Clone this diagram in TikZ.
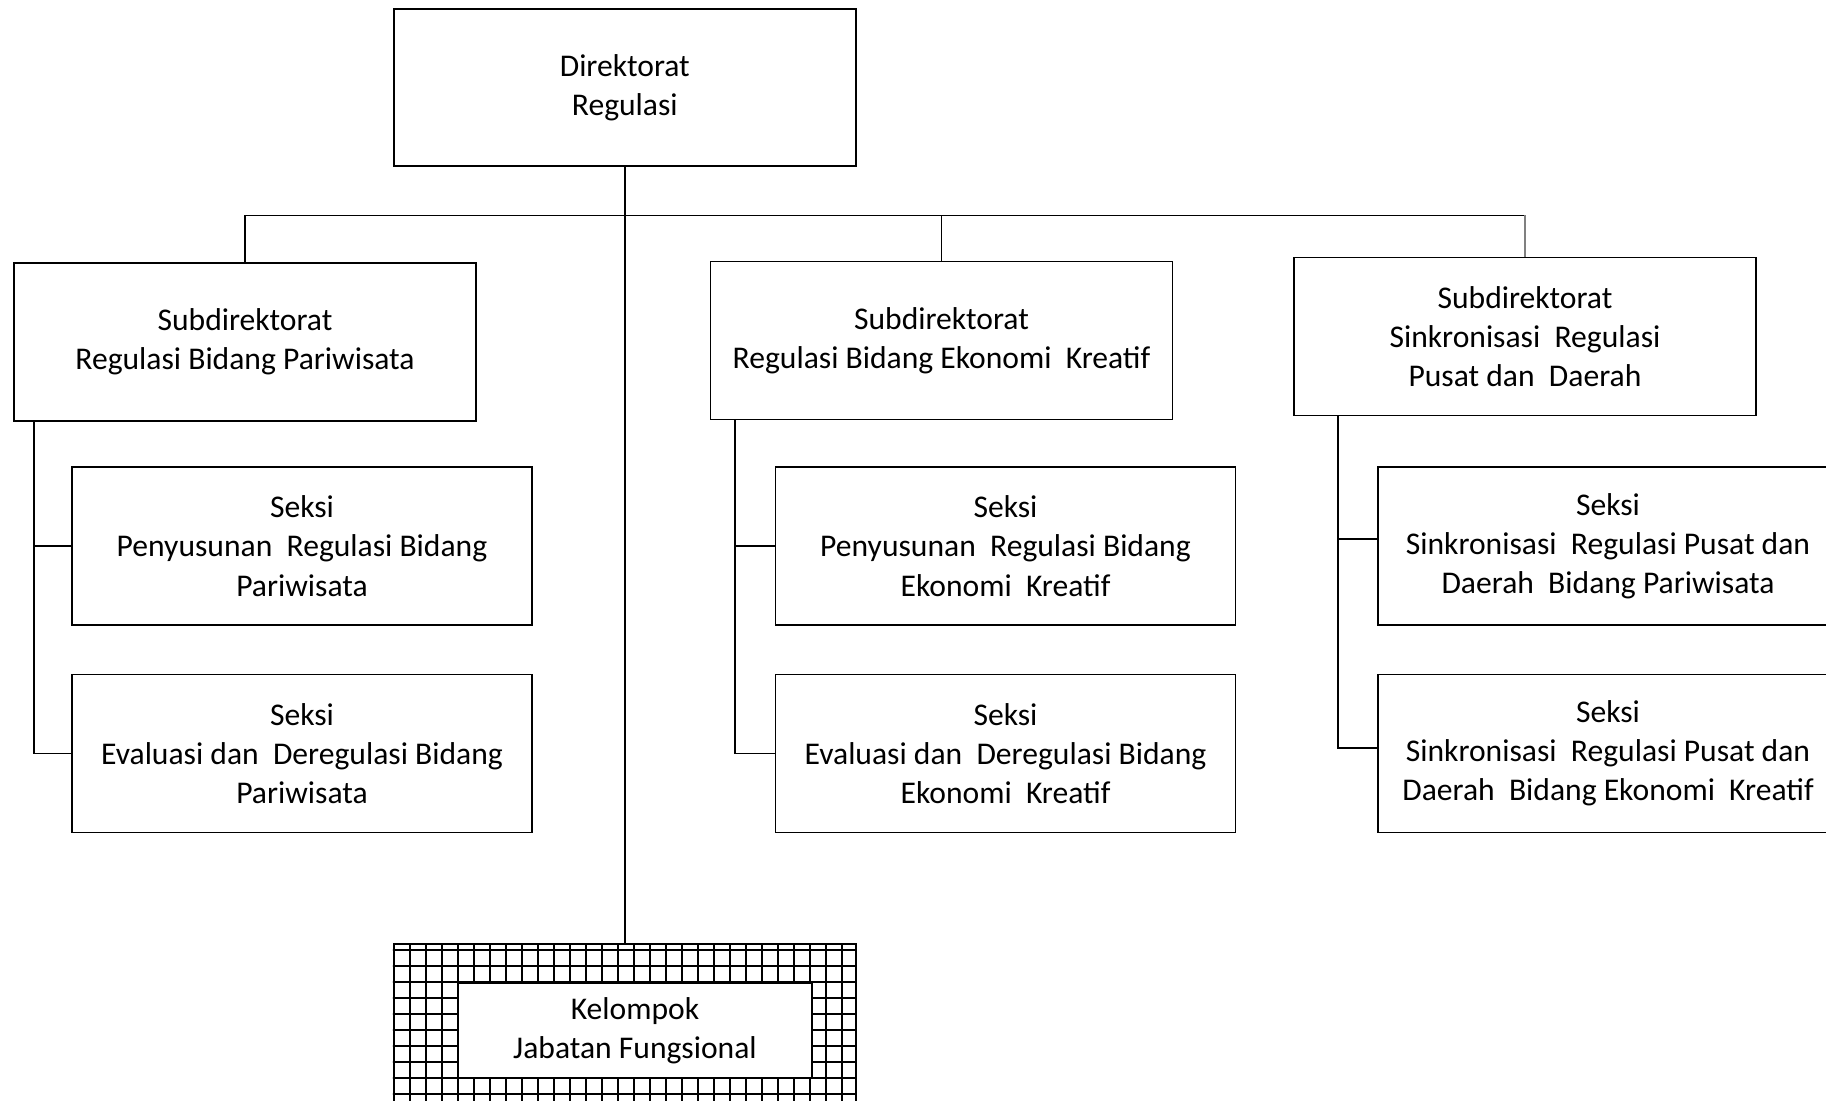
\documentclass[tikz,border=0pt]{standalone}
\usepackage{fontspec}
\setmainfont{Carlito}
\begin{document}
\begin{tikzpicture}[x=0.5pt, y=-0.5pt, font=\fontsize{15.8}{19.6}\selectfont, line join=miter,
	kotak/.style={draw, line width=0.9pt, align=center, inner sep=0pt, minimum width=231pt, minimum height=79pt},
	seksi/.style={kotak, minimum width=230pt},
	garis/.style={line width=0.85pt},
	petak/.style={line width=0.7pt}]
	\useasboundingbox (0,0) rectangle (1826,1100);
	\node[kotak, minimum height=78.5pt] (dir) at (624.8,87.5) {Direktorat\\Regulasi};
	\node[kotak] (sub1) at (245,342) {Subdirektorat\\Regulasi Bidang Pariwisata};
	\node[kotak] (sub2) at (941.5,340.5) {Subdirektorat\\Regulasi Bidang Ekonomi\ \ Kreatif};
	\node[kotak] (sub3) at (1525,336.5) {Subdirektorat\\Sinkronisasi\ \ Regulasi\\Pusat dan\ \ Daerah};
	\node[seksi] (s11) at (302,546) {Seksi\\Penyusunan\ \ Regulasi Bidang\\Pariwisata};
	\node[seksi] (s12) at (302,753.5) {Seksi\\Evaluasi dan\ \ Deregulasi Bidang\\Pariwisata};
	\node[seksi] (s21) at (1005.5,546) {Seksi\\Penyusunan\ \ Regulasi Bidang\\Ekonomi\ \ Kreatif};
	\node[seksi] (s22) at (1005.5,753.5) {Seksi\\Evaluasi dan\ \ Deregulasi Bidang\\Ekonomi\ \ Kreatif};
	\node[seksi] (s31) at (1608,546) {Seksi\\Sinkronisasi\ \ Regulasi Pusat dan\\Daerah\ \ Bidang Pariwisata};
	\node[seksi] (s32) at (1608,753.5) {Seksi\\Sinkronisasi\ \ Regulasi Pusat dan\\Daerah\ \ Bidang Ekonomi\ \ Kreatif};
	% kelompok jabatan fungsional
	\node[draw, line width=0.9pt, inner sep=0pt, minimum width=231pt, minimum height=86.5pt] (kjfbox) at (624.8,1030.5) {};
	\begin{scope}
		\clip (kjfbox.south west) rectangle (kjfbox.north east);
		\foreach \gx in {394,410,...,856} \draw[petak] (\gx,930) -- (\gx,1130);
		\foreach \gy in {950,966,...,1130} \draw[petak] (380,\gy) -- (870,\gy);
	\end{scope}
	\node[kotak, fill=white, minimum width=177pt, minimum height=47.7pt] (kjf) at (635,1030.4) {Kelompok\\Jabatan Fungsional};
	% garis
	\coordinate (bus) at (941.5,215.4);
	\draw[garis] (dir.south) -- (kjfbox.north);
	\draw[garis] (sub1.north) |- (bus) -- (bus -| sub3.north);
	\draw[garis] (sub2.north) -- (bus);
	\draw[garis, gray, line width=1.1pt] (bus -| sub3.north) -- (sub3.north);
	\draw[garis] ([xshift=10.5pt]sub1.south west) |- (s11.west);
	\draw[garis] ([xshift=10.5pt]sub1.south west) |- (s12.west);
	\draw[garis] ([xshift=12.75pt]sub2.south west) |- (s21.west);
	\draw[garis] ([xshift=12.75pt]sub2.south west) |- (s22.west);
	\draw[garis] ([xshift=22.5pt]sub3.south west) |- ([yshift=3.5pt]s31.west);
	\draw[garis] ([xshift=22.5pt]sub3.south west) |- ([yshift=2.8pt]s32.west);
\end{tikzpicture}
\end{document}
